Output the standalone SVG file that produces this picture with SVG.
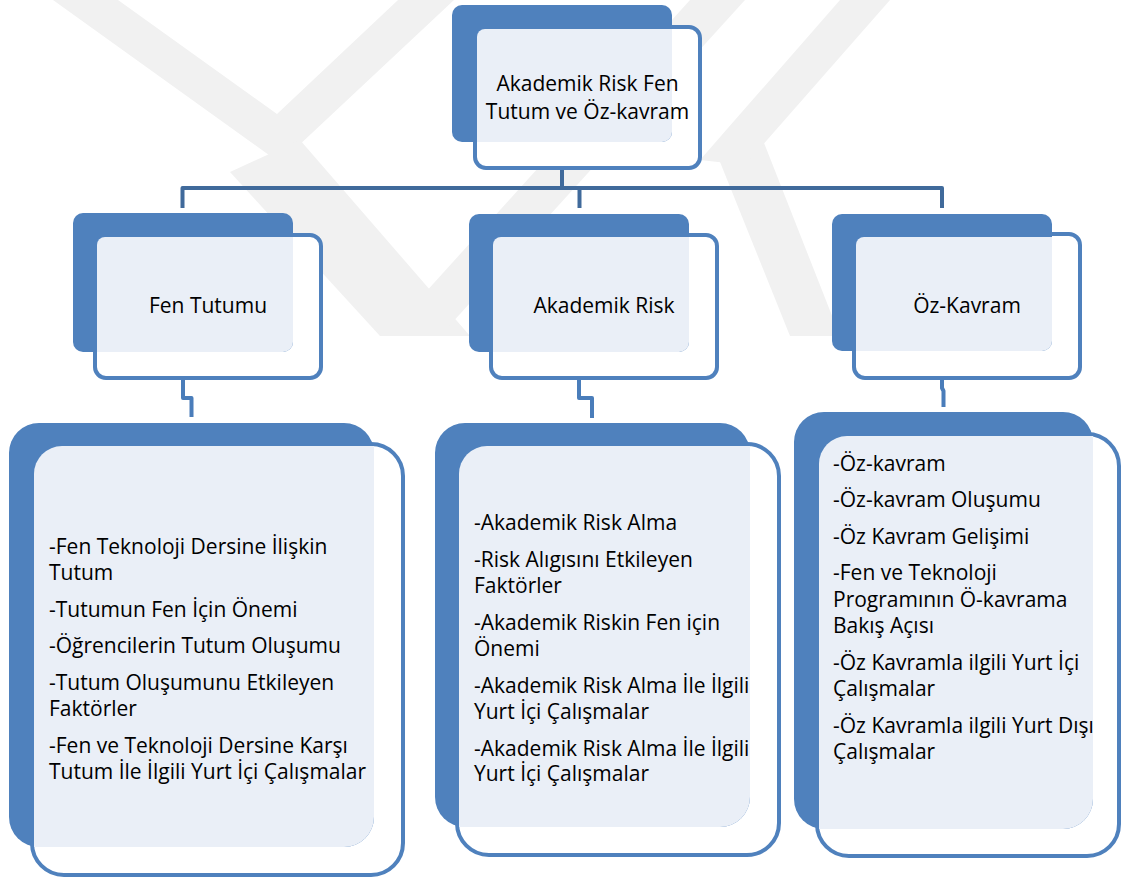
<svg xmlns="http://www.w3.org/2000/svg" width="1121" height="879" viewBox="0 0 1121 879">
<style>
.blue{fill:#4F81BD}
.frame{fill:#FFFFFF;stroke:#4F81BD;stroke-width:4}
.light{fill:#EAEFF7}
.lbl{font-family:"Open Sans","Noto Sans","DejaVu Sans",sans-serif;font-size:21px;fill:#000}
.mid{text-anchor:middle}
.wm{fill:#F1F1F1}
.bar{fill:none;stroke:#406A9B;stroke-width:4;stroke-linejoin:round}
.drop{fill:none;stroke:#4A7DBA;stroke-width:4;stroke-linejoin:round}
.ghost{fill:none;stroke:#E2E8F1;stroke-width:4}
</style>
<rect width="1121" height="879" fill="#FFFFFF"/>
<g id="watermark">
<polygon class="wm" points="53,0 118,0 277,114 398,0 454,0 280,163"/>
<polygon class="wm" points="230,172 300,140 470,336 380,336"/>
<polygon class="wm" points="386,336 440,336 745,0 690,0"/>
<polygon class="wm" points="714,147 757,125 840,336 790,336"/>
<polygon class="wm" points="700,160 840,0 890,0 745,165"/>
</g>
<g id="connectors">
<path class="ghost" d="M562,146 V168"/>
<path class="bar" d="M562,170 V188"/>
<path class="bar" d="M182.5,208 V188 H942 V208"/>
<path class="bar" d="M579.5,188 V208"/>
<path class="ghost" d="M183,356 V378 M579,356 V378 M942,355 V378"/>
<path class="drop" d="M183,380 V398 H191.5 V417"/>
<path class="drop" d="M579,380 V398 H592 V418"/>
<path class="drop" d="M942,380 V388 L943.5,391 V407"/>
</g>
<g id="node-root">
<rect class="frame" x="475" y="27" width="225" height="141" rx="11"/>
<rect class="blue" x="452" y="5" width="220" height="137" rx="10"/>
<path class="light" d="M485,29 H672 V132 A10,10 0 0 1 662,142 H477 V37 A8,8 0 0 1 485,29 Z"/>
<text class="lbl mid" x="587.5" y="90.5">Akademik Risk Fen</text>
<text class="lbl mid" x="587.5" y="118.5">Tutum ve Öz-kavram</text>
</g>
<g id="node-fen-tutumu">
<rect class="frame" x="95" y="235" width="226" height="143" rx="11"/>
<rect class="blue" x="73" y="213" width="220" height="139" rx="10"/>
<path class="light" d="M105,237 H293 V342 A10,10 0 0 1 283,352 H97 V245 A8,8 0 0 1 105,237 Z"/>
<text class="lbl mid" x="208" y="312.5">Fen Tutumu</text>
</g>
<g id="node-akademik-risk">
<rect class="frame" x="491" y="235" width="226" height="143" rx="11"/>
<rect class="blue" x="469" y="214" width="220" height="138" rx="10"/>
<path class="light" d="M501,237 H689 V342 A10,10 0 0 1 679,352 H493 V245 A8,8 0 0 1 501,237 Z"/>
<text class="lbl mid" x="604" y="312.5">Akademik Risk</text>
</g>
<g id="node-oz-kavram">
<rect class="frame" x="854" y="234" width="226" height="144" rx="11"/>
<rect class="blue" x="832" y="214" width="220" height="137" rx="10"/>
<path class="light" d="M864,237 H1052 V341 A10,10 0 0 1 1042,351 H856 V245 A8,8 0 0 1 864,237 Z"/>
<text class="lbl mid" x="967" y="312.5">Öz-Kavram</text>
</g>
<g id="node-fen-list">
<rect class="frame" x="32" y="444" width="371" height="431" rx="32"/>
<rect class="blue" x="9" y="423" width="365" height="424" rx="30"/>
<path class="light" d="M62,446 H374 V817 A30,30 0 0 1 344,847 H34 V474 A28,28 0 0 1 62,446 Z"/>
<text class="lbl" x="49" y="554">-Fen Teknoloji Dersine İlişkin</text>
<text class="lbl" x="49" y="579.5">Tutum</text>
<text class="lbl" x="49" y="616.5">-Tutumun Fen İçin Önemi</text>
<text class="lbl" x="49" y="652.5">-Öğrencilerin Tutum Oluşumu</text>
<text class="lbl" x="49" y="690">-Tutum Oluşumunu Etkileyen</text>
<text class="lbl" x="49" y="715.5">Faktörler</text>
<text class="lbl" x="49" y="752.5">-Fen ve Teknoloji Dersine Karşı</text>
<text class="lbl" x="49" y="778.5">Tutum İle İlgili Yurt İçi Çalışmalar</text>
</g>
<g id="node-risk-list">
<rect class="frame" x="457" y="444" width="322" height="411" rx="32"/>
<rect class="blue" x="435" y="423" width="315" height="404" rx="30"/>
<path class="light" d="M487,446 H750 V797 A30,30 0 0 1 720,827 H459 V474 A28,28 0 0 1 487,446 Z"/>
<text class="lbl" x="474" y="529.5">-Akademik Risk Alma</text>
<text class="lbl" x="474" y="566.5">-Risk Alıgısını Etkileyen</text>
<text class="lbl" x="474" y="592.5">Faktörler</text>
<text class="lbl" x="474" y="630">-Akademik Riskin Fen için</text>
<text class="lbl" x="474" y="656">Önemi</text>
<text class="lbl" x="474" y="692.5">-Akademik Risk Alma İle İlgili</text>
<text class="lbl" x="474" y="718.5">Yurt İçi Çalışmalar</text>
<text class="lbl" x="474" y="755.5">-Akademik Risk Alma İle İlgili</text>
<text class="lbl" x="474" y="781">Yurt İçi Çalışmalar</text>
</g>
<g id="node-oz-list">
<rect class="frame" x="817" y="434" width="302" height="422" rx="32"/>
<rect class="blue" x="794" y="412" width="299" height="417" rx="30"/>
<path class="light" d="M847,436 H1093 V799 A30,30 0 0 1 1063,829 H819 V464 A28,28 0 0 1 847,436 Z"/>
<text class="lbl" x="833" y="470.5">-Öz-kavram</text>
<text class="lbl" x="833" y="507">-Öz-kavram Oluşumu</text>
<text class="lbl" x="833" y="543.5">-Öz Kavram Gelişimi</text>
<text class="lbl" x="833" y="580">-Fen ve Teknoloji</text>
<text class="lbl" x="833" y="606.5">Programının Ö-kavrama</text>
<text class="lbl" x="833" y="632.5">Bakış Açısı</text>
<text class="lbl" x="833" y="670">-Öz Kavramla ilgili Yurt İçi</text>
<text class="lbl" x="833" y="696">Çalışmalar</text>
<text class="lbl" x="833" y="732.5">-Öz Kavramla ilgili Yurt Dışı</text>
<text class="lbl" x="833" y="758.5">Çalışmalar</text>
</g>
</svg>
